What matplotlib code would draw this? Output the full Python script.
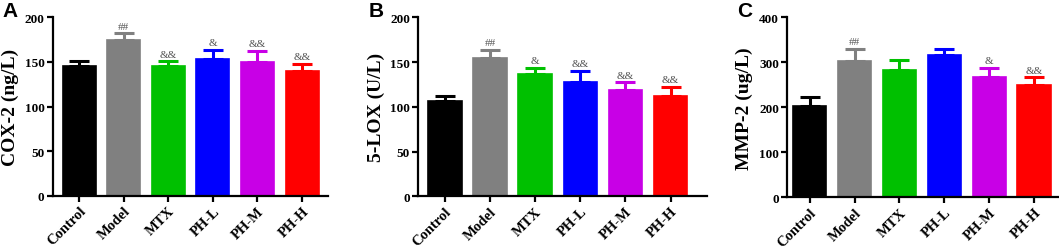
import matplotlib.pyplot as plt
import numpy as np

groups = ['Control', 'Model', 'MTX', 'PH-L', 'PH-M', 'PH-H']
colors = ['#000000', '#808080', '#00c000', '#0000ff', '#c800e6', '#ff0000']

cox2 = [145.5, 175, 145.5, 153, 150, 139.5]
cox2_err = [5.5, 7, 5, 10.5, 12.5, 8]
cox2_sig = ['', '##', '&&', '&', '&&', '&&']

lox5 = [106, 154, 137, 128, 119, 112.5]
lox5_err = [6.5, 9.5, 6.5, 12, 8.5, 10]
lox5_sig = ['', '##', '&', '&&', '&&', '&&']

mmp2 = [202, 303.5, 283, 317, 267, 249.5]
mmp2_err = [21, 26, 21.5, 12, 20.5, 17]
mmp2_sig = ['', '##', '', '', '&', '&&']

panels = [
    ('A', 'COX-2 (ng/L)', cox2, cox2_err, cox2_sig, 200, 50,
     [0.0498, 0.2163, 0.2599, 0.7107], (-0.59, 5.58)),
    ('B', '5-LOX (U/L)', lox5, lox5_err, lox5_sig, 200, 50,
     [0.3950, 0.2139, 0.2723, 0.7131], (-0.59, 5.8)),
    ('C', 'MMP-2 (ug/L)', mmp2, mmp2_err, mmp2_sig, 400, 100,
     [0.7434, 0.2100, 0.2555, 0.7171], (-0.5, 5.53)),
]

serif = 'Liberation Serif'
fig = plt.figure(figsize=(10.59, 2.51), dpi=100)

for letter, ylabel, vals, errs, sigs, ymax, step, pos, xlim in panels:
    ax = fig.add_axes(pos)
    x = np.arange(len(groups))
    ax.bar(x, vals, width=0.74, color=colors, edgecolor=colors, linewidth=1.2, zorder=2)
    for xi, v, e, c, s in zip(x, vals, errs, colors, sigs):
        ax.errorbar(xi, v, yerr=[[0], [e]], fmt='none', ecolor=c,
                    elinewidth=2.2, capsize=7, capthick=2.2, zorder=1)
        if s:
            ax.text(xi, v + e + ymax * 0.015, s, ha='center', va='bottom',
                    fontsize=8, family=serif, color='#555555')
    ax.set_xlim(*xlim)
    ax.set_ylim(0, ymax)
    ax.set_yticks(np.arange(0, ymax + 1, step))
    ax.set_xticks(x)
    ax.set_xticklabels(groups, rotation=45, ha='right', rotation_mode='anchor',
                       fontsize=10.5, fontweight='bold', family=serif)
    for lab in ax.get_yticklabels():
        lab.set_fontsize(9.5)
        lab.set_fontweight('bold')
        lab.set_family(serif)
    ax.set_ylabel(ylabel, fontsize=14, fontweight='bold', family=serif, labelpad=4)
    for side in ['top', 'right']:
        ax.spines[side].set_visible(False)
    for side in ['left', 'bottom']:
        ax.spines[side].set_linewidth(1.6)
    ax.tick_params(axis='both', width=1.6, length=4, pad=2)
    fig.text(pos[0] - 0.047, 0.955, letter, fontsize=15, fontweight='bold',
             family='Liberation Sans', va='center')

fig.savefig('out.png', dpi=100)
